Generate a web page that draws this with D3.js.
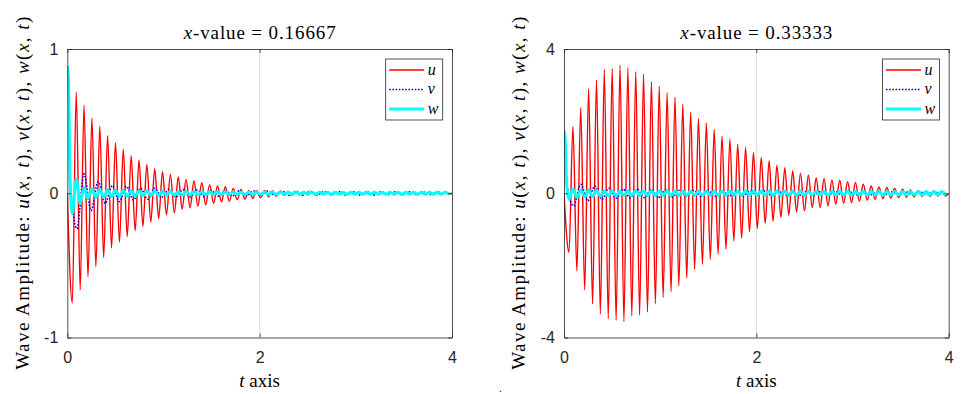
<!DOCTYPE html>
<meta charset="utf-8">
<style>
body { margin: 0; background: #fff; }
.axis path, .axis line { stroke: #262626; stroke-width: 0.8; }
.axis text { font-family: "Liberation Sans", Arial, sans-serif; font-size: 16px; fill: #262626; }
.grid { stroke: #dcdcdc; stroke-width: 1; }
</style>
<body>
<script src="https://d3js.org/d3.v7.min.js"></script>
<script>

// times of the u / w extrema
var tOsc = [0.052,0.093,0.134,0.174,0.215,0.256,0.297,0.338,0.378,0.419,
  0.460,0.501,0.542,0.582,0.623,0.664,0.705,0.746,0.786,0.827,
  0.868,0.909,0.950,0.990,1.031,1.072,1.113,1.154,1.194,1.235,
  1.276,1.317,1.358,1.398,1.439,1.480,1.521,1.562,1.602,1.643,
  1.684,1.725,1.766,1.806,1.847,1.888,1.929,1.970,2.010,2.051,
  2.092,2.133,2.174,2.214,2.255,2.296,2.337,2.378,2.418,2.459,
  2.500,2.541,2.582,2.622,2.663,2.704,2.745,2.786,2.826,2.867,
  2.908,2.949,2.990,3.030,3.071,3.112,3.153,3.194,3.234,3.275,
  3.316,3.357,3.398,3.438,3.479,3.520,3.561,3.602,3.642,3.683,
  3.724,3.765,3.806,3.846,3.887,3.928,3.969];

// times of the v extrema
var tV = [0.100,0.174,0.247,0.321,0.394,0.468,0.541,0.615,0.688,0.762,
  0.835,0.909,0.982,1.056,1.129,1.203,1.276,1.350,1.423,1.497,
  1.570,1.644,1.717,1.791,1.864,1.938,2.011,2.085,2.158,2.232,
  2.305,2.379,2.452,2.526,2.599,2.673,2.746,2.820,2.893,2.967,
  3.040,3.114,3.187,3.261,3.334,3.408,3.481,3.555,3.628,3.702,
  3.775,3.849,3.922];

// initial drop of v and w
var tHead = [0, 0.012, 0.028];

var uLeft = [-0.76,0.70,-0.67,0.61,-0.58,0.52,-0.51,0.465,-0.445,0.40,
  -0.38,0.35,-0.34,0.305,-0.30,0.26,-0.26,0.23,-0.23,0.20,
  -0.20,0.17,-0.175,0.15,-0.15,0.13,-0.135,0.113,-0.11,0.095,
  -0.10,0.085,-0.09,0.075,-0.08,0.06,-0.07,0.05,-0.06,0.045,
  -0.055,0.033,-0.045,0.026,-0.04,0.02,-0.035,0.017,-0.03,0.02,
  -0.025,0.018,-0.02,0.015,-0.016,0.012,-0.013,0.01,-0.01,0.009,
  -0.009,0.008,-0.008,0.008,-0.008,0.007,-0.007,0.007,-0.007,0.006,
  -0.006,0.006,-0.006,0.006,-0.006,0.005,-0.005,0.005,-0.005,0.005,
  -0.005,0.005,-0.005,0.005,-0.005,0.005,-0.005,0.004,-0.004,0.004,
  -0.004,0.004,-0.004,0.004,-0.004,0.004,-0.004];

var uRight = [-1.64,1.85,-2.15,2.37,-2.68,2.90,-3.07,3.14,-3.35,3.43,
  -3.47,3.46,-3.52,3.55,-3.56,3.48,-3.40,3.37,-3.38,3.30,
  -3.29,3.09,-3.06,2.97,-2.89,2.79,-2.73,2.66,-2.57,2.47,
  -2.35,2.25,-2.11,2.07,-1.97,1.94,-1.83,1.77,-1.69,1.59,
  -1.55,1.50,-1.32,1.36,-1.25,1.27,-1.07,1.13,-0.98,0.99,
  -0.83,0.90,-0.77,0.78,-0.67,0.71,-0.61,0.62,-0.52,0.55,
  -0.49,0.50,-0.40,0.43,-0.40,0.41,-0.35,0.37,-0.31,0.36,
  -0.28,0.32,-0.26,0.30,-0.22,0.25,-0.19,0.20,-0.17,0.175,
  -0.15,0.16,-0.13,0.13,-0.12,0.11,-0.11,0.09,-0.10,0.08,
  -0.09,0.065,-0.09,0.065,-0.08,0.05,-0.08];

var vHeadLeft = [0.88, 0.72, 0.12];
var vLeft = [-0.245,0.134,-0.12,0.08,-0.07,0.053,-0.058,0.047,-0.047,0.035,
  -0.042,0.035,-0.028,0.028,-0.027,0.025,-0.025,0.022,-0.022,0.02,
  -0.02,0.018,-0.018,0.017,-0.017,0.016,-0.016,0.015,-0.015,0.014,
  -0.014,0.014,-0.013,0.013,-0.013,0.012,-0.012,0.012,-0.012,0.011,
  -0.011,0.011,-0.011,0.01,-0.01,0.01,-0.01,0.01,-0.01,0.009,
  -0.009,0.009,-0.009];

var vHeadRight = [1.73, 1.45, 0.3];
var vRight = [-0.35,0.25,-0.21,0.20,-0.17,0.14,-0.14,0.11,-0.13,0.11,
  -0.12,0.10,-0.11,0.09,-0.10,0.085,-0.09,0.08,-0.085,0.075,
  -0.08,0.07,-0.075,0.065,-0.07,0.06,-0.065,0.06,-0.06,0.055,
  -0.058,0.05,-0.055,0.05,-0.052,0.048,-0.05,0.045,-0.048,0.043,
  -0.046,0.042,-0.044,0.04,-0.042,0.038,-0.04,0.037,-0.038,0.035,
  -0.036,0.034,-0.035];

var wHeadLeft = [0.88, 0.78, 0.1];
var wLeft = [-0.14,0.10,-0.07,0.04,-0.035,0.03,-0.03,0.026,-0.026,0.024,
  -0.024,0.022,-0.022,0.02,-0.02,0.019,-0.019,0.018,-0.018,0.017,
  -0.017,0.016,-0.016,0.015,-0.015,0.014,-0.014,0.013,-0.013,0.012,
  -0.012,0.011,-0.011,0.011,-0.011,0.01,-0.01,0.01,-0.01,0.01,
  -0.01,0.009,-0.009,0.009,-0.009,0.009,-0.009,0.008,-0.008,0.008,
  -0.008,0.008,-0.008,0.008,-0.008,0.007,-0.007,0.007,-0.007,0.007,
  -0.007,0.007,-0.007,0.007,-0.007,0.007,-0.007,0.007,-0.007,0.007,
  -0.007,0.007,-0.007,0.007,-0.007,0.007,-0.007,0.007,-0.007,0.007,
  -0.007,0.007,-0.007,0.007,-0.007,0.007,-0.007,0.007,-0.007,0.007,
  -0.007,0.007,-0.007,0.007,-0.007,0.007,-0.007];

var wHeadRight = [1.73, 1.5, 0.25];
var wRight = [-0.17,0.12,-0.12,0.10,-0.10,0.09,-0.09,0.08,-0.08,0.075,
  -0.075,0.07,-0.07,0.065,-0.065,0.065,-0.065,0.065,-0.065,0.065,
  -0.065,0.065,-0.065,0.065,-0.065,0.065,-0.065,0.065,-0.065,0.065,
  -0.065,0.06,-0.06,0.06,-0.06,0.06,-0.06,0.06,-0.06,0.06,
  -0.06,0.06,-0.06,0.06,-0.06,0.06,-0.06,0.06,-0.06,0.06,
  -0.06,0.06,-0.06,0.06,-0.06,0.06,-0.06,0.06,-0.06,0.06,
  -0.06,0.05,-0.05,0.05,-0.05,0.05,-0.05,0.05,-0.05,0.05,
  -0.05,0.05,-0.05,0.05,-0.05,0.05,-0.05,0.05,-0.05,0.05,
  -0.05,0.05,-0.05,0.05,-0.05,0.05,-0.05,0.05,-0.05,0.05,
  -0.05,0.05,-0.05,0.05,-0.05,0.05,-0.05];

var xTicks = [0, 2, 4];
var yTicksLeft = [-1, 0, 1];
var yTicksRight = [-4, 0, 4];
var titles = ["0.16667", "0.33333"];
var seriesNames = ["u", "v", "w"];

var SERIF = "'Liberation Serif', 'Times New Roman', serif";

// set up the svg
var W = 968, H = 394;
var svg = d3.select("body").append("svg")
    .attr("width", W)
    .attr("height", H);

var plotW = 384.7, plotH = 288.5, plotTop = 49;

var panels = [
  {left: 67.3, title: titles[0], yTicks: yTicksLeft,
   u: [0].concat(uLeft, [0]), v: vHeadLeft.concat(vLeft), w: wHeadLeft.concat(wLeft)},
  {left: 564, title: titles[1], yTicks: yTicksRight,
   u: [0].concat(uRight, [0]), v: vHeadRight.concat(vRight), w: wHeadRight.concat(wRight)}
];

var tU = [0].concat(tOsc, [4]);
var tVall = tHead.concat(tV);
var tW = tHead.concat(tOsc);

function richText(sel, parts) {
  parts.forEach(function(p) {
    sel.append("tspan")
      .attr("font-style", p[1] ? "italic" : null)
      .text(p[0]);
  });
}

panels.forEach(function(p, i) {
  var g = svg.append("g")
      .attr("transform", "translate(" + p.left + "," + plotTop + ")");

  var x = d3.scaleLinear().domain([0, 4]).range([0, plotW]);
  var y = d3.scaleLinear().domain([p.yTicks[0], p.yTicks[2]]).range([plotH, 0]);

  g.append("clipPath").attr("id", "clip" + i)
    .append("rect").attr("width", plotW).attr("height", plotH);

  // grid line at t = 2
  g.append("line").attr("class", "grid")
      .attr("x1", x(2)).attr("x2", x(2))
      .attr("y1", 0).attr("y2", plotH);

  var line = d3.line()
      .x(function(d) { return x(d[0]); })
      .y(function(d) { return y(d[1]); })
      .curve(d3.curveMonotoneX);

  var lines = g.append("g").attr("clip-path", "url(#clip" + i + ")");
  lines.append("path")
      .attr("d", line(d3.zip(tU, p.u)))
      .attr("fill", "none").attr("stroke", "#ff0000").attr("stroke-width", 1.4);
  lines.append("path")
      .attr("d", line(d3.zip(tVall, p.v)))
      .attr("fill", "none").attr("stroke", "#0000ff").attr("stroke-width", 1.6)
      .attr("stroke-dasharray", "1.6,1.6");
  lines.append("path")
      .attr("d", line(d3.zip(tW, p.w)))
      .attr("fill", "none").attr("stroke", "#00ffff").attr("stroke-width", 3);

  // axes, ticks pointing in
  g.append("g").attr("class", "axis")
      .attr("transform", "translate(0," + plotH + ")")
      .call(d3.axisBottom(x).tickValues(xTicks).tickSize(-4).tickSizeOuter(0).tickPadding(14)
        .tickFormat(function(d) { return d; }));
  g.append("g").attr("class", "axis")
      .call(d3.axisTop(x).tickValues(xTicks).tickSize(-4).tickSizeOuter(0).tickFormat(""));
  g.append("g").attr("class", "axis")
      .call(d3.axisLeft(y).tickValues(p.yTicks).tickSize(-4).tickSizeOuter(0).tickPadding(9)
        .tickFormat(function(d) { return d; }));
  g.append("g").attr("class", "axis")
      .attr("transform", "translate(" + plotW + ",0)")
      .call(d3.axisRight(y).tickValues(p.yTicks).tickSize(-4).tickSizeOuter(0).tickFormat(""));

  // title
  var title = g.append("text")
      .attr("font-family", SERIF)
      .attr("x", plotW / 2).attr("y", 39 - plotTop)
      .attr("text-anchor", "middle")
      .attr("font-size", 19)
      .attr("textLength", 152).attr("lengthAdjust", "spacing");
  richText(title, [["x", true], ["-value = " + p.title, false]]);

  // x label
  var xl = g.append("text")
      .attr("font-family", SERIF)
      .attr("x", plotW / 2).attr("y", 386.7 - plotTop)
      .attr("text-anchor", "middle")
      .attr("font-size", 19);
  richText(xl, [["t", true], [" axis", false]]);

  // y label
  var yl = g.append("text")
      .attr("font-family", SERIF)
      .attr("transform", "translate(" + (28.5 - 67.3) + "," + (plotH / 2) + ") rotate(-90)")
      .attr("text-anchor", "middle")
      .attr("font-size", 19)
      .attr("textLength", 353).attr("lengthAdjust", "spacing");
  richText(yl, [["Wave Amplitude: ", false], ["u", true], ["(", false], ["x", true], [", ", false],
    ["t", true], ["), ", false], ["v", true], ["(", false], ["x", true], [", ", false], ["t", true],
    ["), ", false], ["w", true], ["(", false], ["x", true], [", ", false], ["t", true], [")", false]]);

  // legend
  var lg = g.append("g").attr("transform", "translate(318.4,10)");
  lg.append("rect").attr("width", 57).attr("height", 61)
      .attr("fill", "#fff").attr("stroke", "#262626").attr("stroke-width", 0.8);
  var styles = [
    {c: "#ff0000", w: 1.4, dash: null},
    {c: "#0000ff", w: 1.6, dash: "1.6,1.6"},
    {c: "#00ffff", w: 3, dash: null}
  ];
  seriesNames.forEach(function(name, j) {
    var ly = 11 + j * 19.5;
    lg.append("line")
        .attr("x1", 3.5).attr("x2", 38.5).attr("y1", ly).attr("y2", ly)
        .attr("stroke", styles[j].c).attr("stroke-width", styles[j].w)
        .attr("stroke-dasharray", styles[j].dash);
    lg.append("text")
        .attr("font-family", SERIF)
        .attr("x", 42).attr("y", ly + 4.5)
        .attr("font-size", 16).attr("font-style", "italic")
        .text(name);
  });
});

svg.append("text").attr("x", 499).attr("y", 392)
    .attr("font-size", 10).attr("font-family", "Liberation Sans")
    .text(".");

</script>
</body>
